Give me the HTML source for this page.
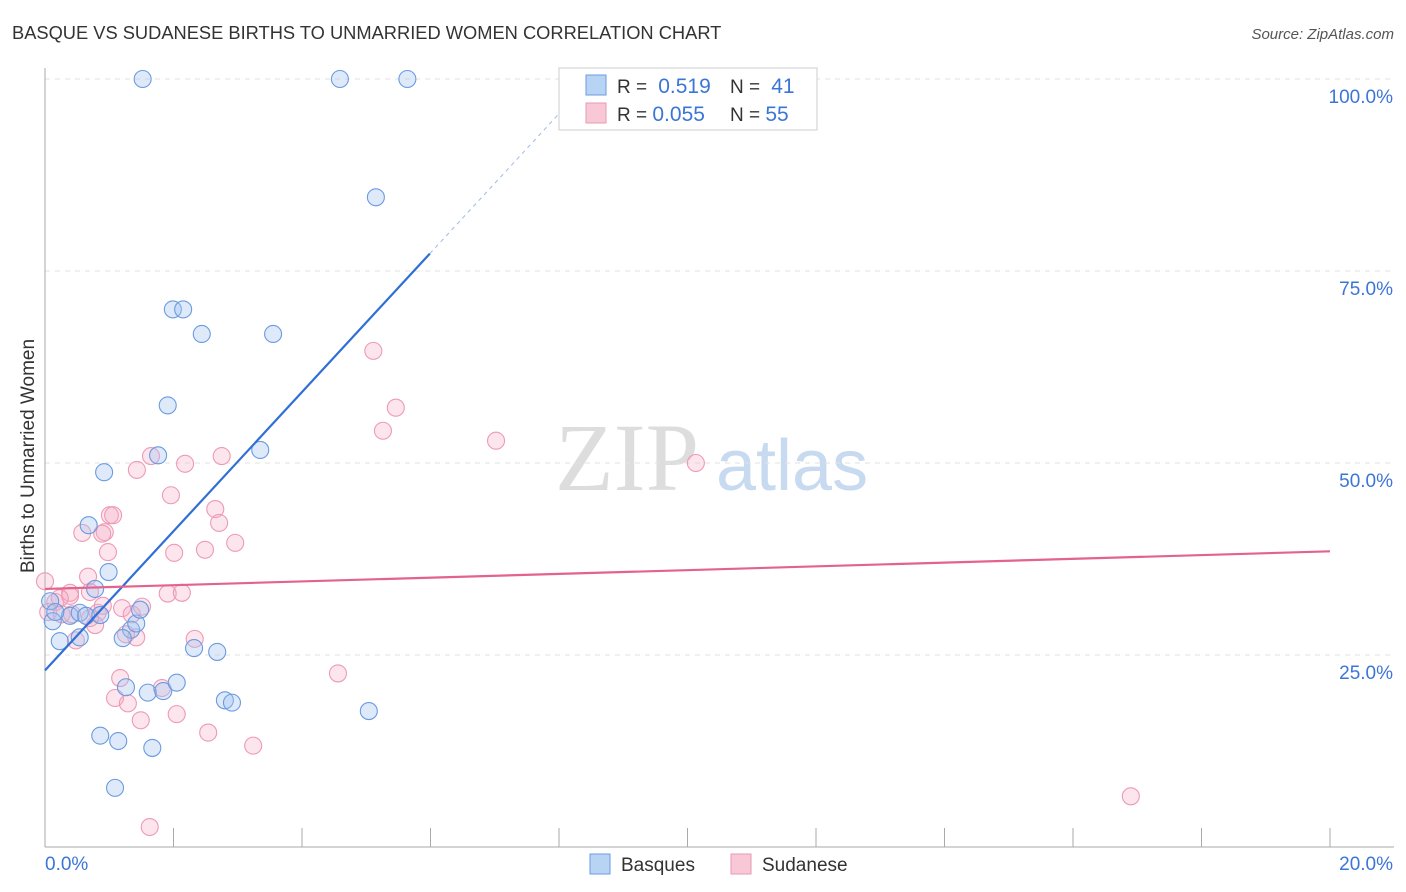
<!DOCTYPE html>
<html><head><meta charset="utf-8"><style>
body{margin:0;background:#fff;font-family:"Liberation Sans",sans-serif}
svg{display:block}
</style></head><body>
<svg id="c" width="1406" height="892">
<text x="12" y="39" font-size="18.3" fill="#333">BASQUE VS SUDANESE BIRTHS TO UNMARRIED WOMEN CORRELATION CHART</text>
<text x="1394" y="39" font-size="15" fill="#555" font-style="italic" text-anchor="end">Source: ZipAtlas.com</text>
<text x="34" y="456" font-size="19" fill="#333" text-anchor="middle" transform="rotate(-90 34 456)">Births to Unmarried Women</text>
<text x="555" y="490" font-size="96" fill="#ddd" font-family="Liberation Serif,serif">ZIP</text>
<text x="716" y="490" font-size="72" fill="#c8daf0">atlas</text>
<g id="grid"></g><g id="pts"></g><g id="lines"></g>
<g>
<rect x="559" y="68" width="258" height="62" fill="#fff" stroke="#ccc"/>
<rect x="586" y="75" width="20" height="20" fill="#b8d4f5" stroke="#6a9be0"/>
<rect x="586" y="103" width="20" height="20" fill="#f9c8d6" stroke="#e99ab2"/>
<text x="617" y="93" font-size="19" fill="#333">R = <tspan fill="#3b76d6" font-size="21">&#160;0.519</tspan><tspan x="730">N = </tspan><tspan fill="#3b76d6" font-size="21">&#160;41</tspan></text>
<text x="617" y="121" font-size="19" fill="#333">R = <tspan fill="#3b76d6" font-size="21">0.055</tspan><tspan x="730">N = </tspan><tspan fill="#3b76d6" font-size="21">55</tspan></text>
</g>
<g>
<rect x="590" y="854" width="20" height="20" fill="#b8d4f5" stroke="#6a9be0"/>
<text x="621" y="871" font-size="19" fill="#333">Basques</text>
<rect x="731" y="854" width="20" height="20" fill="#f9c8d6" stroke="#e99ab2"/>
<text x="762" y="871" font-size="19" fill="#333">Sudanese</text>
</g>
</svg>
<script>
const yTicks=[25,50,75,100];
const yTickLabels=["25.0%","50.0%","75.0%","100.0%"];
const xTickLabels=["0.0%","20.0%"];
const basqueX=[1.52,4.59,5.64,5.15,1.99,2.15,2.44,3.55,1.91,1.76,3.35,0.92,0.68,0.99,0.78,0.08,0.12,0.39,0.54,0.64,0.86,0.23,0.54,1.34,1.42,1.48,1.21,1.26,1.6,1.84,2.05,2.32,2.68,2.8,2.91,0.86,1.14,1.67,1.09,5.04,0.16];
const basqueY=[100,100,100,84.6,70,70,66.8,66.8,57.5,51,51.7,48.8,41.9,35.8,33.6,32,29.4,30.1,30.5,30.1,30.2,26.8,27.3,28.3,29.1,30.9,27.2,20.8,20.1,20.3,21.4,25.9,25.4,19.1,18.8,14.5,13.8,12.9,7.7,17.7,30.6];
const sudX=[1.65,1.43,2.18,2.75,1.96,2.65,2.71,0.58,0.93,1.01,1.06,0.89,0.98,2.01,2.49,2.96,0.67,0.39,0,0.16,0.05,0.26,0.42,0.82,0.78,0.7,1.2,1.35,1.51,1.91,2.13,1.42,1.26,0.48,2.33,1.17,1.82,1.09,1.29,1.49,2.05,2.54,3.24,1.63,5.11,5.46,5.26,7.02,10.13,4.56,16.9,0.9,0.39,0.7,0.23];
const sudY=[50.9,49.1,49.9,50.9,45.8,44,42.2,40.9,41,43.2,43.2,40.8,38.4,38.3,38.7,39.6,35.2,33.1,34.6,31.9,30.6,30.3,30.3,30.5,28.9,29.8,31.1,30.3,31.3,33,33.1,27.3,27.7,26.9,27.1,22,20.7,19.4,18.7,16.5,17.3,14.9,13.2,2.6,64.6,57.2,54.2,52.9,50,22.6,6.6,31.4,32.7,33.2,32.4];
const blueLine=[23.0,9.06]; const pinkLine=[33.6,0.245];
const X=v=>45+v*64.25, Y=v=>847-v*7.68;
const ns="http://www.w3.org/2000/svg";
function mk(t,a,p){const e=document.createElementNS(ns,t);for(const k in a)e.setAttribute(k,a[k]);p.appendChild(e);return e;}
const g=document.getElementById('grid');
yTicks.forEach((t,i)=>{
 const l=mk('line',{x1:45,x2:1394,y1:Y(t),y2:Y(t),stroke:'#e2e2e2','stroke-dasharray':'5,5'},g);
 
 
 const tx=mk('text',{x:1393,y:Y(t)+24,'font-size':19,fill:'#3b76d6','text-anchor':'end'},g);tx.textContent=yTickLabels[i];
 
 
});
mk('line',{x1:45,x2:45,y1:68,y2:847,stroke:'#aaa'},g);
mk('line',{x1:45,x2:1394,y1:847,y2:847,stroke:'#aaa'},g);
for(let i=0;i<=10;i++){const t=mk('line',{x1:X(i*2),x2:X(i*2),y1:828,y2:847,stroke:'#aaa'},g);
 
 }
[[0,45,'start'],[20,1393,'end']].forEach((d,i)=>{const t=mk('text',{x:d[1],y:870,'font-size':19,fill:'#3b76d6','text-anchor':d[2]},g);t.textContent=xTickLabels[i];
 
 });
const p=document.getElementById('pts');
sudX.forEach((x,i)=>{const c=mk('circle',{cx:X(x),cy:Y(sudY[i]),r:8.5,fill:'rgba(246,170,195,0.3)',stroke:'#ee9ab5','stroke-width':1.1},p);
 
 });
basqueX.forEach((x,i)=>{const c=mk('circle',{cx:X(x),cy:Y(basqueY[i]),r:8.5,fill:'rgba(160,195,240,0.35)',stroke:'#6a9be0','stroke-width':1.1},p);
 
 });
const L=document.getElementById('lines');
const bx1=5.99,bx2=(100-blueLine[0])/blueLine[1];
let e=mk('line',{x1:X(0),y1:Y(blueLine[0]),x2:X(bx1),y2:Y(blueLine[0]+blueLine[1]*bx1),stroke:'#2f6fd6','stroke-width':2.2},L);


e=mk('line',{x1:X(bx1),y1:Y(blueLine[0]+blueLine[1]*bx1),x2:X(bx2),y2:Y(100),stroke:'#9bbbe8','stroke-width':1,'stroke-dasharray':'4,4'},L);


e=mk('line',{x1:X(0),y1:Y(pinkLine[0]),x2:X(20),y2:Y(pinkLine[0]+pinkLine[1]*20),stroke:'#e3628e','stroke-width':2.2},L);


</script>
</body></html>
